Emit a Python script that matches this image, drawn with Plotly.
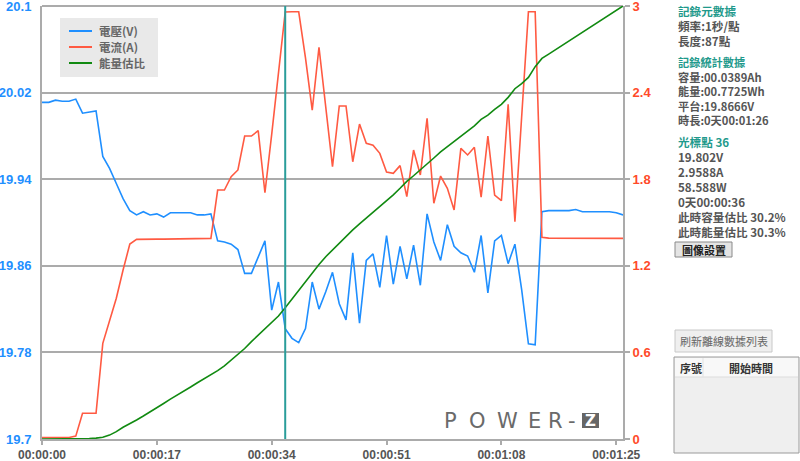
import plotly.graph_objects as go

# ---------------- data ----------------
seconds = list(range(87))

voltage = [
    20.011, 20.011, 20.013, 20.012, 20.012, 20.014, 20.001, 20.002, 20.003, 19.961,
    19.950, 19.936, 19.922, 19.911, 19.907, 19.910, 19.907, 19.908, 19.905, 19.909,
    19.909, 19.909, 19.909, 19.907, 19.907, 19.908, 19.883, 19.882, 19.880, 19.875,
    19.853, 19.853, 19.868, 19.883, 19.819, 19.845, 19.802, 19.793, 19.789, 19.802,
    19.845, 19.820, 19.836, 19.854, 19.825, 19.810, 19.872, 19.807, 19.865, 19.871,
    19.840, 19.888, 19.843, 19.878, 19.848, 19.879, 19.842, 19.908, 19.882, 19.865,
    19.898, 19.878, 19.872, 19.869, 19.854, 19.888, 19.835, 19.883, 19.888, 19.862,
    19.880, 19.838, 19.788, 19.787, 19.910, 19.911, 19.911, 19.911, 19.911, 19.912,
    19.910, 19.910, 19.910, 19.910, 19.910, 19.909, 19.907,
]

current = [
    0.01, 0.01, 0.01, 0.01, 0.01, 0.02, 0.178, 0.178, 0.178, 0.663,
    0.824, 0.975, 1.171, 1.351, 1.383, 1.385, 1.385, 1.385, 1.385, 1.385,
    1.385, 1.385, 1.385, 1.385, 1.385, 1.39, 1.725, 1.725, 1.817, 1.864,
    2.099, 2.099, 2.136, 1.706, 2.11, 2.53, 2.9588, 2.96, 2.96, 2.64,
    2.279, 2.714, 2.30, 1.887, 2.307, 2.307, 1.921, 2.182, 2.049, 2.035,
    1.979, 1.85, 1.841, 1.894, 1.679, 2.002, 1.829, 2.222, 1.633, 1.822,
    1.737, 1.587, 2.014, 1.968, 2.021, 1.675, 2.099, 1.69, 1.651, 2.319,
    1.505, 2.196, 2.96, 2.96, 1.397, 1.392, 1.392, 1.392, 1.392, 1.392,
    1.392, 1.392, 1.392, 1.392, 1.392, 1.392, 1.39,
]

energy_pct = [
    0, 0, 0, 0, 0, 0, 0.05, 0.1, 0.2, 0.4,
    0.9, 1.7, 2.7, 3.5, 4.4, 5.3, 6.2, 7.2, 8.2, 9.2,
    10.1, 11.1, 12.0, 13.0, 13.9, 14.8, 15.8, 16.9, 18.2, 19.6,
    20.9, 22.5, 24.0, 25.6, 26.9, 28.4, 30.3, 32.3, 34.4, 36.5,
    38.4, 40.3, 42.1, 43.7, 45.2, 46.7, 48.3, 49.7, 51.0, 52.4,
    53.6, 55.0, 56.4, 57.9, 59.5, 60.8, 62.1, 63.5, 64.9, 66.3,
    67.5, 68.6, 69.7, 71.0, 72.3, 73.8, 74.8, 76.1, 77.3, 78.9,
    80.9, 82.1, 83.5, 86.0, 87.9, 88.9, 89.9, 90.9, 91.9, 92.9,
    93.9, 94.9, 95.9, 96.9, 97.9, 98.9, 100.0,
]

x_tick_vals = [0, 17, 34, 51, 68, 85]
x_tick_text = ["00:00:00", "00:00:17", "00:00:34", "00:00:51", "00:01:08", "00:01:25"]
v_tick_vals = [19.7, 19.78, 19.86, 19.94, 20.02, 20.1]
v_tick_text = ["19.7", "19.78", "19.86", "19.94", "20.02", "20.1"]
a_tick_vals = [0, 0.6, 1.2, 1.8, 2.4, 3]
a_tick_text = ["0", "0.6", "1.2", "1.8", "2.4", "3"]

cursor_index = 36
legend_names = ["電壓(V)", "電流(A)", "能量估比"]

info_blocks = [
    ("記錄元數據", ["頻率:1秒/點", "長度:87點"], 10, 11.6),
    ("記錄統計數據", ["容量:00.0389Ah", "能量:00.7725Wh", "平台:19.8666V", "時長:0天00:01:26"], 60, 11.2),
    ("光標點 36", ["19.802V", "2.9588A", "58.588W", "0天00:00:36",
                  "此時容量估比 30.2%", "此時能量估比 30.3%"], 141, 11.6),
]

# ---------------- styling ----------------
BLUE = "#1f8fff"
RED = "#ff5a42"
GREEN = "#118a11"
TEAL = "#2a9d9a"
GRID = "#ababab"
TXT = "#555555"
HEAD = "#1f9a8c"

W, H = 800, 461
L, R, T, B = 42, 623, 6, 439


def px(x):
    return (x - L) / (R - L)


def py(y):
    return (B - y) / (B - T)


fig = go.Figure()
fig.add_trace(go.Scatter(x=seconds, y=voltage, mode="lines", name=legend_names[0],
                         line=dict(color=BLUE, width=1.6), yaxis="y", showlegend=False))
fig.add_trace(go.Scatter(x=seconds, y=current, mode="lines", name=legend_names[1],
                         line=dict(color=RED, width=1.6), yaxis="y2", showlegend=False))
fig.add_trace(go.Scatter(x=seconds, y=energy_pct, mode="lines", name=legend_names[2],
                         line=dict(color=GREEN, width=1.6), yaxis="y3", showlegend=False))

shapes = []
annotations = []

# top border gridline (20.1)
shapes.append(dict(type="line", xref="paper", yref="paper", x0=0, x1=1, y0=1, y1=1,
                   line=dict(color=GRID, width=2), layer="below"))

# cursor line
shapes.append(dict(type="line", xref="x", yref="paper", x0=cursor_index, x1=cursor_index,
                   y0=0, y1=1, line=dict(color=TEAL, width=2)))

# manual legend
shapes.append(dict(type="rect", xref="paper", yref="paper", x0=px(60), x1=px(158),
                   y0=py(77), y1=py(18), fillcolor="#e9e9e9", line=dict(width=0), layer="above"))
for name, col, yy in zip(legend_names, [BLUE, RED, GREEN], [31, 47, 63]):
    shapes.append(dict(type="line", xref="paper", yref="paper", x0=px(69), x1=px(92),
                       y0=py(yy), y1=py(yy), line=dict(color=col, width=2)))
    annotations.append(dict(text=name, xref="paper", yref="paper", x=px(97), y=py(yy),
                            xanchor="left", yanchor="middle", showarrow=False,
                            font=dict(family="Noto Sans CJK TC", size=11.5, color="#666666",
                                      weight="bold")))

# watermark POWER-Z
for ch, cx in zip("POWER-", [451, 477, 507, 534, 555, 572]):
    annotations.append(dict(text=ch, xref="paper", yref="paper", x=px(cx), y=py(420.5),
                            xanchor="center", yanchor="middle", showarrow=False,
                            font=dict(family="DejaVu Sans", size=21, color="#6a6a6a")))
shapes.append(dict(type="rect", xref="paper", yref="paper", x0=px(582), x1=px(599),
                   y0=py(428), y1=py(413), fillcolor="#666666", line=dict(width=0)))
annotations.append(dict(text="Z", xref="paper", yref="paper", x=px(590.5), y=py(420.5),
                        xanchor="center", yanchor="middle", showarrow=False,
                        font=dict(family="DejaVu Sans", size=15, color="white", weight="bold")))

# right info panel (one annotation per block)
for head, lines, ytop, fsize in info_blocks:
    line_h = fsize * 1.3
    txt = "<span style='color:%s'>%s</span><br>" % (HEAD, head) + "<br>".join(lines)
    annotations.append(dict(text=txt, xref="paper", yref="paper", x=px(676),
                            y=py(ytop - line_h / 2 - 1), xanchor="left", yanchor="top",
                            align="left", showarrow=False,
                            font=dict(family="Noto Sans CJK TC", size=fsize,
                                      color=TXT, weight="bold")))

# buttons
shapes.append(dict(type="rect", xref="paper", yref="paper", x0=px(675), x1=px(732),
                   y0=py(257), y1=py(242), fillcolor="#e4e4e4", line=dict(color="#8a8a8a", width=1)))
annotations.append(dict(text="圖像設置", xref="paper", yref="paper", x=px(703.5), y=py(249.5),
                        xanchor="center", yanchor="middle", showarrow=False,
                        font=dict(family="Noto Sans CJK TC", size=11, color="#222222", weight="bold")))
shapes.append(dict(type="rect", xref="paper", yref="paper", x0=px(675), x1=px(772),
                   y0=py(352), y1=py(330), fillcolor="#efefef", line=dict(color="#c8c8c8", width=1)))
annotations.append(dict(text="刷新離線數據列表", xref="paper", yref="paper", x=px(723.5), y=py(341),
                        xanchor="center", yanchor="middle", showarrow=False,
                        font=dict(family="Noto Sans CJK TC", size=11, color="#666666")))

# table
shapes.append(dict(type="rect", xref="paper", yref="paper", x0=px(674), x1=px(799),
                   y0=py(453), y1=py(357), fillcolor="#efefef", line=dict(color="#9a9a9a", width=1)))
shapes.append(dict(type="rect", xref="paper", yref="paper", x0=px(675), x1=px(798),
                   y0=py(377), y1=py(358), fillcolor="#f8f8f8", line=dict(width=0)))
shapes.append(dict(type="line", xref="paper", yref="paper", x0=px(675), x1=px(798),
                   y0=py(377), y1=py(377), line=dict(color="#dddddd", width=1)))
shapes.append(dict(type="line", xref="paper", yref="paper", x0=px(703), x1=px(703),
                   y0=py(377), y1=py(358), line=dict(color="#e2e2e2", width=1)))
annotations.append(dict(text="序號", xref="paper", yref="paper", x=px(691), y=py(368),
                        xanchor="center", yanchor="middle", showarrow=False,
                        font=dict(family="Noto Sans CJK TC", size=11, color="#333333", weight="bold")))
annotations.append(dict(text="開始時間", xref="paper", yref="paper", x=px(751), y=py(368),
                        xanchor="center", yanchor="middle", showarrow=False,
                        font=dict(family="Noto Sans CJK TC", size=11, color="#333333", weight="bold")))

fig.update_layout(
    width=W, height=H,
    margin=dict(l=L, r=W - R, t=T, b=H - B, pad=0, autoexpand=False),
    paper_bgcolor="white", plot_bgcolor="white",
    showlegend=False,
    xaxis=dict(range=[0, 86], tickmode="array", tickvals=x_tick_vals, ticktext=x_tick_text,
               ticks="outside", ticklen=4, tickcolor=GRID, tickwidth=1.5, ticklabelstandoff=0,
               ticklabeloverflow="allow",
               showline=True, linecolor=GRID, linewidth=2, showgrid=False, zeroline=False,
               tickfont=dict(family="Liberation Sans", size=12, color=TXT, weight="bold")),
    yaxis=dict(range=[19.7, 20.1000001], tickmode="array", tickvals=v_tick_vals, ticktext=v_tick_text,
               showgrid=True, gridcolor=GRID, gridwidth=2, showline=True, linecolor=GRID,
               linewidth=2, zeroline=False, ticks="", ticklabelstandoff=6, ticklabeloverflow="allow",
               tickfont=dict(family="Liberation Sans", size=13, color=BLUE, weight="bold")),
    yaxis2=dict(range=[0, 3.0000001], overlaying="y", side="right", tickmode="array",
                tickvals=a_tick_vals, ticktext=a_tick_text, ticks="outside", ticklen=5,
                tickcolor=GRID, tickwidth=1.5, showline=True, linecolor=GRID, linewidth=2,
                showgrid=False, zeroline=False, ticklabeloverflow="allow",
                tickfont=dict(family="Liberation Sans", size=13, color="#ff4a2a", weight="bold")),
    yaxis3=dict(range=[0, 100], overlaying="y", visible=False),
    shapes=shapes,
    annotations=annotations,
)

fig.write_html("out.html", config={"displayModeBar": False},
               post_script="document.body.style.margin='0';document.body.style.overflow='hidden';")
